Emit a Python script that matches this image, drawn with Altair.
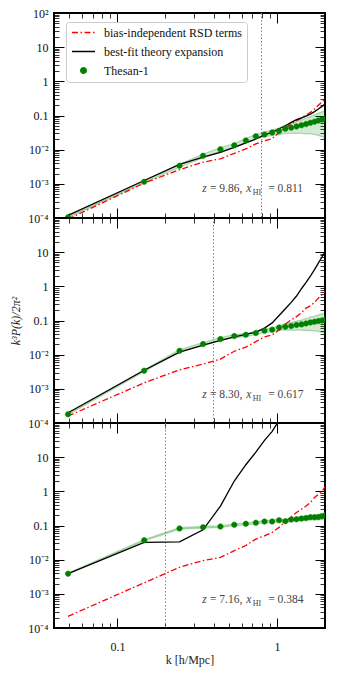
import altair as alt
import pandas as pd

# ---------------- data ----------------
K = [0.049, 0.147, 0.245, 0.344, 0.442, 0.540, 0.638, 0.737, 0.835, 0.933, 1.031,
     1.129, 1.228, 1.326, 1.424, 1.522, 1.620, 1.719, 1.817, 1.915, 2.013]

# panel 1: z = 9.86
THESAN_1 = [1.05e-4, 1.15e-3, 3.4e-3, 6.6e-3, 1.02e-2, 1.34e-2, 1.86e-2, 2.45e-2, 2.8e-2, 3.2e-2, 3.5e-2,
            4.1e-2, 4.4e-2, 4.8e-2, 5.2e-2, 5.6e-2, 6.1e-2, 6.6e-2, 7.1e-2, 7.6e-2, 8.1e-2]
ERR_1 = [3e-6, 6e-5, 3.4e-4, 8e-4, 1.2e-3, 1.6e-3, 2.4e-3, 3.4e-3, 4.2e-3, 5.8e-3, 7.7e-3,
         1.1e-2, 1.4e-2, 1.8e-2, 2.2e-2, 2.7e-2, 3.2e-2, 3.8e-2, 4.5e-2, 5.2e-2, 5.8e-2]
BLACK_1 = [1.2e-4, 1.25e-3, 3.7e-3, 6.0e-3, 8.3e-3, 1.17e-2, 1.58e-2, 2.05e-2, 2.7e-2, 3.2e-2, 4.1e-2,
           5.0e-2, 6.3e-2, 7.6e-2, 8.5e-2, 9.6e-2, 0.11, 0.13, 0.155, 0.185, 0.22]
RED_1 = [0.93e-4, 1.05e-3, 2.6e-3, 4.3e-3, 5.4e-3, 7.8e-3, 1.05e-2, 1.48e-2, 1.83e-2, 2.1e-2, 3.2e-2,
         4.3e-2, 5.6e-2, 7.1e-2, 8.4e-2, 0.104, 0.123, 0.155, 0.20, 0.25, 0.31]

# panel 2: z = 8.30
THESAN_2 = [1.8e-4, 3.4e-3, 1.3e-2, 2.04e-2, 2.86e-2, 3.5e-2, 3.8e-2, 4.3e-2, 5.0e-2, 5.4e-2, 6.2e-2,
            6.6e-2, 6.9e-2, 7.4e-2, 7.7e-2, 8.2e-2, 8.8e-2, 9.2e-2, 9.6e-2, 0.100, 0.105]
ERR_2 = [5e-6, 1.7e-4, 1.0e-3, 2.0e-3, 2.9e-3, 3.5e-3, 3.8e-3, 4.3e-3, 5.0e-3, 6.5e-3, 9.3e-3,
         1.3e-2, 1.7e-2, 2.2e-2, 2.5e-2, 3.1e-2, 3.7e-2, 4.2e-2, 4.8e-2, 5.5e-2, 6.1e-2]
BLACK_2 = [2.0e-4, 3.5e-3, 1.18e-2, 1.9e-2, 2.6e-2, 3.3e-2, 3.9e-2, 4.6e-2, 6.0e-2, 8.5e-2, 0.14,
           0.22, 0.34, 0.52, 0.85, 1.3, 2.0, 3.1, 4.8, 7.2, 11.0]
RED_2 = [1.6e-4, 1.5e-3, 3.6e-3, 5.3e-3, 7.4e-3, 1.26e-2, 1.67e-2, 2.4e-2, 3.3e-2, 3.8e-2, 5.3e-2,
         7.9e-2, 0.104, 0.13, 0.17, 0.23, 0.27, 0.34, 0.45, 0.57, 0.72]

# panel 3: z = 7.16
THESAN_3 = [3.9e-3, 3.7e-2, 8.2e-2, 8.9e-2, 9.3e-2, 0.105, 0.112, 0.12, 0.13, 0.131, 0.143,
            0.134, 0.15, 0.153, 0.16, 0.165, 0.175, 0.175, 0.178, 0.186, 0.20]
ERR_3 = [1e-4, 1.5e-3, 4e-3, 4.5e-3, 5e-3, 6e-3, 7e-3, 8e-3, 1e-2, 1.1e-2, 1.3e-2,
         1.4e-2, 1.7e-2, 1.9e-2, 2.1e-2, 2.3e-2, 2.6e-2, 2.8e-2, 3.1e-2, 3.4e-2, 3.8e-2]
BLACK_3 = [3.9e-3, 3.2e-2, 3.3e-2, 7.5e-2, 0.37, 2.0, 6.0, 14.0, 31.0, 57.0, 120.0,
           None, None, None, None, None, None, None, None, None, None]
RED_3 = [2.2e-4, 2.1e-3, 6.0e-3, 9.4e-3, 1.17e-2, 1.83e-2, 2.6e-2, 4.0e-2, 5.0e-2, 6.3e-2, 8.8e-2,
         0.13, 0.18, 0.24, 0.30, 0.37, 0.47, 0.66, 0.82, 1.0, 1.43]

K_MAX = [0.8, 0.4, 0.2]
Z_VALUES = ["9.86", "8.30", "7.16"]
XHI_VALUES = ["0.811", "0.617", "0.384"]
NOTE_K = [0.34, 0.34, 0.34]
NOTE_P = [5.6e-4, 5.5e-4, 5.5e-4]

NAMES = ["bias-independent RSD terms", "best-fit theory expansion", "Thesan-1"]
COLORS = ["#ff0000", "#000000", "#008000"]

# ---------------- styling ----------------
FONT = "Liberation Serif"
LINE_PATH = "M-1,0H1"
DOT_PATH = "M-0.24,0A0.24,0.24,0,1,1,0.24,0A0.24,0.24,0,1,1,-0.24,0Z"
DASHES = [[6, 2.5, 1.5, 2.5], [1, 0], [1, 0]]

MAJ_X = [0.1, 1]
MIN_X = [0.05, 0.06, 0.07, 0.08, 0.09, 0.2, 0.3, 0.4, 0.5, 0.6, 0.7, 0.8, 0.9]
MAJ_Y = [1e-4, 1e-3, 1e-2, 1e-1, 1, 10, 100]
MIN_Y = [m * 10.0 ** e for e in range(-4, 2) for m in range(2, 10)]

XS = alt.Scale(type="log", domain=[0.04, 2.0], nice=False)
YS = alt.Scale(type="log", domain=[1e-4, 1e2], nice=False)

W, H = 271, 205


def axis(orient, values, size, **kw):
    base = dict(orient=orient, values=values, tickSize=size, offset=-size, domain=False,
                grid=False, ticks=True, tickColor="black", tickWidth=1.0 if size > 6 else 0.8,
                labelFont=FONT, labelFontSize=12, labelColor="#111",
                titleFont=FONT, titleFontSize=12, titleColor="#222", titleFontWeight="normal")
    base.update(kw)
    if "labels" not in base:
        base["labels"] = False
    if "title" not in base:
        base["title"] = None
    return alt.Axis(**base)


def panel(i, thesan, err, black, red):
    top = i == 0
    bottom = i == 2
    lo = [v - e for v, e in zip(thesan, err)]
    hi = [v + e for v, e in zip(thesan, err)]
    d_obs = pd.DataFrame({"k": K, "p": thesan, "lo": lo, "hi": hi, "series": NAMES[2]})
    d_black = pd.DataFrame({"k": K, "p": black}).dropna()
    d_red = pd.DataFrame({"k": K, "p": red})
    d_rule = pd.DataFrame({"k": [K_MAX[i]]})
    d_note = pd.DataFrame({"k": [NOTE_K[i]], "p": [NOTE_P[i]], "z": [Z_VALUES[i]],
                           "xhi": [XHI_VALUES[i]]})

    first = "'10²'" if top else "''"
    yexpr = (f"datum.value > 50 ? {first} : datum.value > 5 ? '10' : datum.value > 0.5 ? '1' : "
             "datum.value > 0.05 ? '0.1' : datum.value > 0.005 ? '10⁻²' : "
             "datum.value > 0.0005 ? '10⁻³' : '10⁻⁴'")
    xexpr = "datum.value < 0.5 ? '0.1' : '1'"

    x_bm = axis("bottom", MAJ_X, 10, labels=bottom, labelExpr=xexpr, labelPadding=13.5,
                title="k [h/Mpc]" if bottom else None, titlePadding=2)
    y_lm = axis("left", MAJ_Y, 10, labels=True, labelExpr=yexpr, labelPadding=6,
                title="k³P(k)/2π²" if i == 1 else None, titlePadding=5,
                titleFontStyle="italic")

    band = alt.Chart(d_obs).mark_area(
        color="#008000", fillOpacity=0.17, stroke="#008000", strokeOpacity=0.28,
        strokeWidth=1.3, clip=True
    ).encode(
        x=alt.X("k:Q", scale=XS, axis=x_bm),
        y=alt.Y("lo:Q", scale=YS, axis=y_lm),
        y2="hi:Q",
    )

    rule = alt.Chart(d_rule).mark_rule(color="#808080", strokeDash=[1.5, 2], strokeWidth=1).encode(
        x=alt.X("k:Q", scale=XS, axis=None)
    )

    red_line = alt.Chart(d_red).mark_line(
        color=COLORS[0], strokeDash=DASHES[0], strokeWidth=1.3, clip=True
    ).encode(
        x=alt.X("k:Q", scale=XS, axis=axis("bottom", MIN_X, 5)),
        y=alt.Y("p:Q", scale=YS, axis=axis("left", MIN_Y, 5)),
    )

    black_line = alt.Chart(d_black).mark_line(color=COLORS[1], strokeWidth=1.3, clip=True).encode(
        x=alt.X("k:Q", scale=XS, axis=axis("top", MAJ_X, 10)),
        y=alt.Y("p:Q", scale=YS, axis=axis("right", MAJ_Y, 10)),
    )

    if top:
        leg = alt.Legend(title=None, orient="none", legendX=12, legendY=9, symbolSize=530,
                         symbolStrokeWidth=1.4, symbolFillColor="white", symbolStrokeColor="black",
                         labelFont=FONT, labelFontSize=12, labelColor="#111", labelOffset=8,
                         padding=5, rowPadding=6, clipHeight=11, strokeColor="#cccccc",
                         fillColor="white", cornerRadius=3, labelLimit=300)
    else:
        leg = None
    sc = alt.Scale(domain=NAMES, range=COLORS)
    pts = alt.Chart(d_obs).mark_point(filled=True, size=530, opacity=1, strokeWidth=0.5, clip=True).encode(
        x=alt.X("k:Q", scale=XS, axis=axis("top", MIN_X, 5)),
        y=alt.Y("p:Q", scale=YS, axis=axis("right", MIN_Y, 5)),
        fill=alt.Fill("series:N", scale=sc, legend=leg),
        stroke=alt.Stroke("series:N", scale=sc, legend=leg),
        shape=alt.Shape("series:N", scale=alt.Scale(domain=NAMES, range=[LINE_PATH, LINE_PATH, DOT_PATH]),
                        legend=leg),
        strokeDash=alt.StrokeDash("series:N", scale=alt.Scale(domain=NAMES, range=DASHES), legend=leg),
    )

    def note(text, dx, italic=False, size=11.5, dy=0):
        return alt.Chart(d_note).mark_text(
            align="left", baseline="alphabetic", dx=dx, dy=dy, font=FONT, fontSize=size,
            fontStyle="italic" if italic else "normal", color="#444"
        ).encode(
            x=alt.X("k:Q", scale=XS, axis=None),
            y=alt.Y("p:Q", scale=YS, axis=None),
            text=alt.value(text),
        )

    z_txt = alt.Chart(d_note).transform_calculate(t="'= ' + datum.z + ','").mark_text(
        align="left", baseline="alphabetic", dx=7.7, font=FONT, fontSize=11.5, color="#444"
    ).encode(x=alt.X("k:Q", scale=XS, axis=None), y=alt.Y("p:Q", scale=YS, axis=None), text="t:N")
    x_txt = alt.Chart(d_note).transform_calculate(t="'= ' + datum.xhi").mark_text(
        align="left", baseline="alphabetic", dx=66, font=FONT, fontSize=11.5, color="#444"
    ).encode(x=alt.X("k:Q", scale=XS, axis=None), y=alt.Y("p:Q", scale=YS, axis=None), text="t:N")

    layers = [band, rule, red_line, black_line, pts,
              note("z", 0, italic=True), z_txt, note("x", 44, italic=True),
              note("HI", 50.5, size=8, dy=3), x_txt]
    return alt.layer(*layers).resolve_axis(x="independent", y="independent").properties(
        width=W, height=H)


p1 = panel(0, THESAN_1, ERR_1, BLACK_1, RED_1)
p2 = panel(1, THESAN_2, ERR_2, BLACK_2, RED_2)
p3 = panel(2, THESAN_3, ERR_3, BLACK_3, RED_3)

chart = alt.vconcat(p1, p2, p3, spacing=0, bounds="flush").properties(
    padding={"left": 0, "top": -2, "right": 0, "bottom": 0}
).configure_view(
    stroke="black", strokeWidth=2
).configure_axis(
    labelFont=FONT, titleFont=FONT, labelFontSize=12, titleFontSize=12,
    labelColor="#111", titleColor="#222", labelFlush=False, labelOverlap=False
)

chart.save("out.html", embed_options={"renderer": "svg", "actions": False})
